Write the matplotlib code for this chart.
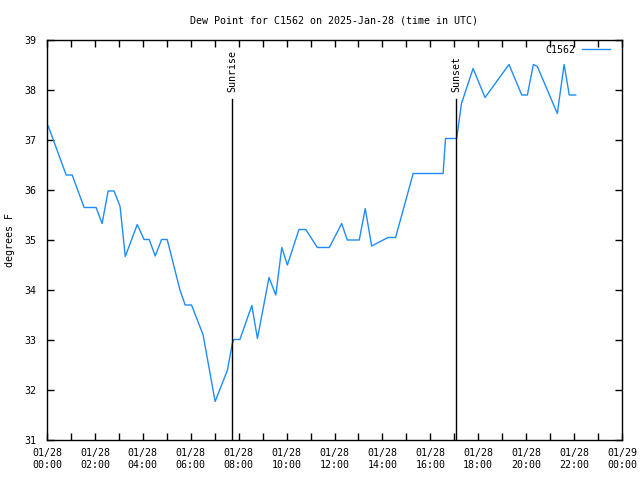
import pandas as pd
import numpy as np
import matplotlib
matplotlib.use('Agg')
import matplotlib.pyplot as plt
import matplotlib.dates as mdates

plt.rcParams['font.family'] = 'DejaVu Sans Mono'
plt.rcParams['font.size'] = 7.2

station = 'C1562'
day = '2025-01-28'
times = ['00:03', '00:48', '01:03', '01:33', '02:03', '02:18', '02:33', '02:48',
         '03:03', '03:16', '03:46', '04:03', '04:16', '04:31', '04:47', '05:01',
         '05:33', '05:46', '06:02', '06:31', '07:01', '07:32', '07:44', '07:48',
         '08:03', '08:33', '08:47', '09:16', '09:33', '09:48', '10:02', '10:31',
         '10:48', '11:17', '11:47', '12:18', '12:32', '13:02', '13:17', '13:33',
         '14:14', '14:33', '15:17', '16:32', '16:38', '17:02', '17:06', '17:18',
         '17:47', '18:17', '19:17', '19:49', '20:03', '20:18', '20:28', '21:18',
         '21:35', '21:48', '22:04']
dewpoint = [37.28, 36.3, 36.3, 35.65, 35.65, 35.33, 35.98, 35.98,
            35.67, 34.67, 35.31, 35.01, 35.01, 34.68, 35.01, 35.01,
            34.0, 33.7, 33.7, 33.1, 31.77, 32.4, 32.93, 33.01,
            33.01, 33.69, 33.03, 34.25, 33.9, 34.85, 34.5, 35.21,
            35.21, 34.85, 34.85, 35.33, 35.0, 35.0, 35.63, 34.88,
            35.05, 35.05, 36.33, 36.33, 37.03, 37.03, 37.03, 37.73,
            38.43, 37.85, 38.51, 37.9, 37.9, 38.51, 38.47, 37.53,
            38.51, 37.9, 37.9]
sunrise = '07:44'
sunset = '17:04'

t = pd.to_datetime([day + ' ' + s for s in times])
t_rise = pd.Timestamp(day + ' ' + sunrise)
t_set = pd.Timestamp(day + ' ' + sunset)

fig = plt.figure(figsize=(6.4, 4.8), dpi=100)
ax = fig.add_axes([47/640, 40/480, 575/640, 400/480])

ax.plot(t, dewpoint, color='#1E8CFF', lw=1, label=station)

for ts, name in [(t_rise, 'Sunrise'), (t_set, 'Sunset')]:
    ax.plot([ts, ts], [31, 37.82], color='black', lw=1)
    ax.text(ts, 37.96, name, rotation=90, ha='center', va='bottom')

ax.set_xlim(pd.Timestamp('2025-01-28 00:00'), pd.Timestamp('2025-01-29 00:00'))
ax.set_ylim(31, 39)
ax.xaxis.set_major_locator(mdates.HourLocator(byhour=range(0, 24, 2)))
ax.xaxis.set_minor_locator(mdates.HourLocator())
ax.xaxis.set_major_formatter(mdates.DateFormatter('%m/%d\n%H:%M'))
ax.set_yticks(range(31, 40))
ax.tick_params(which='both', direction='in', top=True, right=True, length=5, width=1)
ax.tick_params(axis='x', pad=6)
ax.tick_params(axis='y', pad=8)
for sp in ax.spines.values():
    sp.set_linewidth(1)

ax.set_title('Dew Point for C1562 on 2025-Jan-28 (time in UTC)', fontsize=7.2, pad=12)
fig.text(10/640, 0.5, 'degrees F', rotation=90, ha='center', va='center')

leg = ax.legend(loc='upper right', frameon=False, markerfirst=False,
                handlelength=2.8, borderpad=0, borderaxespad=0, handletextpad=0.7,
                bbox_to_anchor=((610 - 47) / 575, 1 - 5 / 400))

fig.savefig('out.png', dpi=100)
